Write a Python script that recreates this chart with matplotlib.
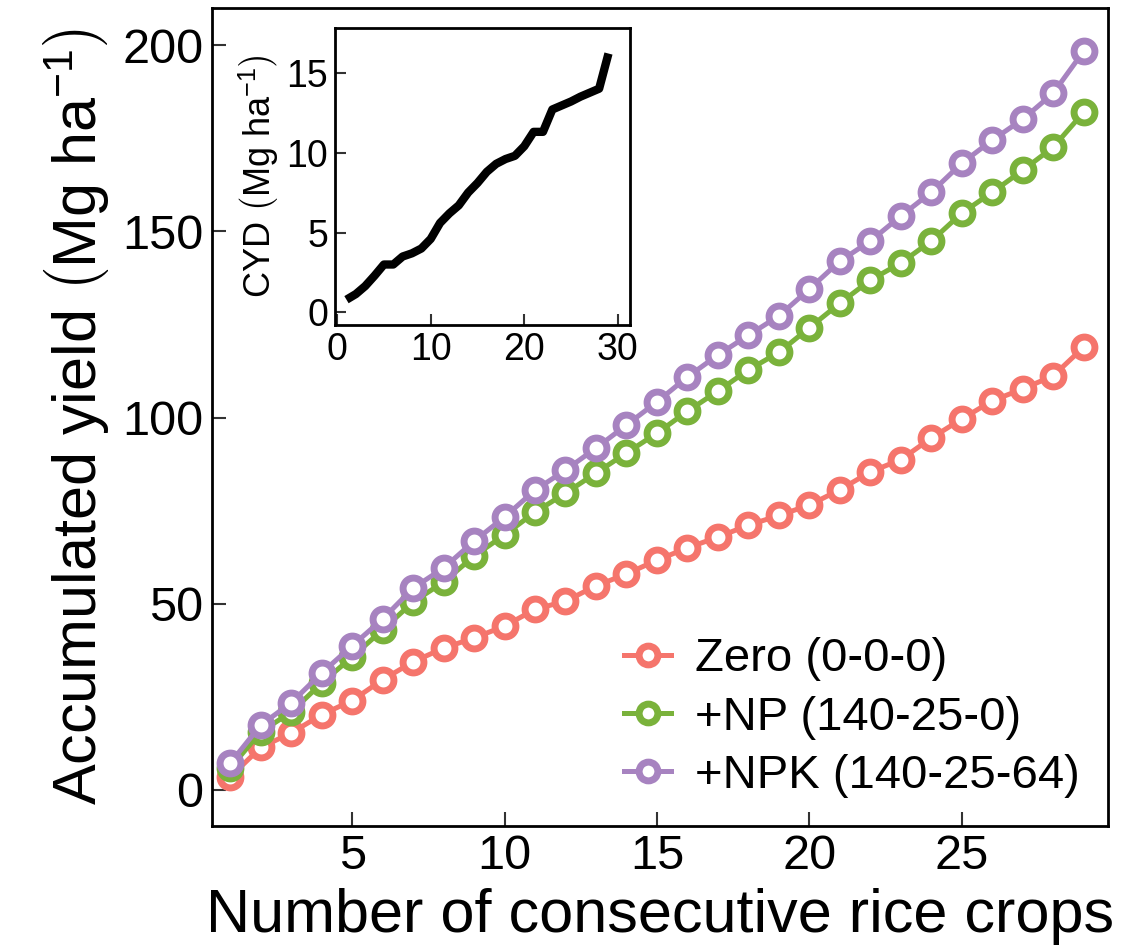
import matplotlib
matplotlib.use("Agg")
import matplotlib.pyplot as plt
import numpy as np

plt.rcParams["font.family"] = ["Liberation Sans", "DejaVu Sans"]
plt.rcParams["mathtext.fontset"] = "custom"
plt.rcParams["mathtext.rm"] = "Liberation Sans"
plt.rcParams["mathtext.it"] = "Liberation Sans:italic"
plt.rcParams["mathtext.bf"] = "Liberation Sans:bold"

crops = np.arange(1, 30)

zero = [3.5, 11.4, 15.3, 20.2, 24.0, 29.6, 34.4, 38.1, 40.8, 44.0,
        48.5, 50.7, 54.8, 58.0, 61.7, 65.0, 67.9, 71.1, 73.7, 76.5,
        80.6, 85.4, 88.7, 94.5, 99.6, 104.5, 107.7, 111.2, 118.9]
np_plus = [5.9, 15.6, 20.9, 28.7, 35.7, 43.0, 50.5, 55.8, 62.8, 68.5,
           74.6, 79.7, 85.1, 90.5, 95.8, 101.7, 107.1, 112.8, 117.5, 124.1,
           130.7, 136.9, 141.5, 147.4, 154.9, 160.5, 166.4, 172.6, 182.0]
npk = [7.2, 17.4, 23.4, 31.4, 38.7, 45.9, 54.2, 59.6, 66.8, 73.3,
       80.5, 85.9, 91.8, 98.0, 104.2, 110.9, 116.8, 122.1, 127.3, 134.5,
       142.0, 147.4, 154.1, 160.5, 168.3, 174.5, 180.1, 187.1, 198.4]

cyd = [0.8, 1.15, 1.65, 2.3, 3.0, 3.0, 3.5, 3.7, 4.0, 4.6,
       5.6, 6.2, 6.7, 7.5, 8.1, 8.8, 9.3, 9.6, 9.8, 10.4,
       11.3, 11.3, 12.7, 12.95, 13.2, 13.5, 13.75, 14.0, 16.2]

labels = ["Zero (0-0-0)", "+NP (140-25-0)", "+NPK (140-25-64)"]
colors = ["#F5756C", "#7AB23B", "#A783C0"]

fig = plt.figure(figsize=(11.25, 9.51), dpi=100)
ax = fig.add_axes([0.1884, 0.1314, 0.7965, 0.8602])

for series, label, color in zip([zero, np_plus, npk], labels, colors):
    ax.plot(crops, series, color=color, lw=3.6, marker="o", ms=15,
            mfc="white", mec=color, mew=5, label=label)

ax.set_xlim(0.4, 29.8)
ax.set_ylim(-9.7, 210)
ax.set_xticks([5, 10, 15, 20, 25])
ax.set_yticks([0, 50, 100, 150, 200])
ax.tick_params(direction="in", length=10, width=1.5, color="#333333",
               labelsize=35, pad=6)
for spine in ax.spines.values():
    spine.set_linewidth(2)
ax.set_xlabel("Number of consecutive rice crops", fontsize=44, labelpad=6)
ax.set_ylabel(r"Accumulated yield $\left(\mathrm{Mg\ ha^{-1}}\right)$",
              fontsize=44, labelpad=8)

ax.legend(loc="lower right", frameon=False, fontsize=34, handlelength=1.0,
          handletextpad=0.5, labelspacing=0.3, borderaxespad=0.4,
          borderpad=0.2, markerscale=0.9)

inset = fig.add_axes([0.298, 0.658, 0.262, 0.3126])
inset.plot(crops, cyd, color="black", lw=6, solid_capstyle="butt")
inset.set_xlim(-0.2, 31.3)
inset.set_ylim(-0.8, 17.8)
inset.set_xticks([0, 10, 20, 30])
inset.set_yticks([0, 5, 10, 15])
inset.tick_params(direction="in", length=8, width=1.5, color="#333333",
                  labelsize=27, pad=5)
for spine in inset.spines.values():
    spine.set_linewidth(2)
inset.set_ylabel(r"CYD $\left(\mathrm{Mg\ ha^{-1}}\right)$", fontsize=26,
                 labelpad=4)

fig.savefig("out.png", dpi=100)
